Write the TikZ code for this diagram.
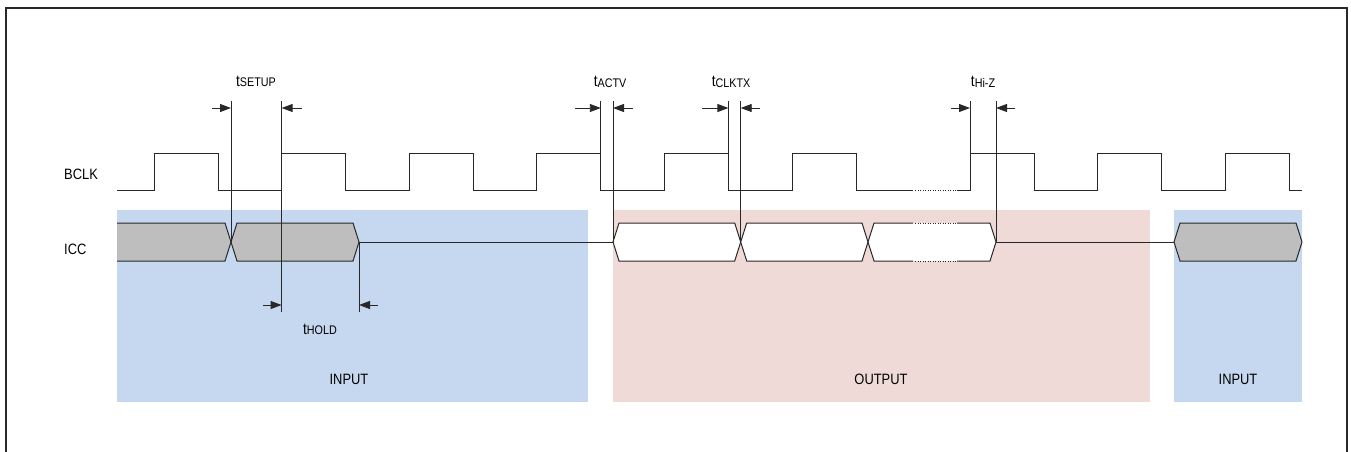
\documentclass[tikz,border=0pt]{standalone}
\usepackage{fontspec}
\setmainfont{Liberation Sans}[FakeStretch=0.86]
\usetikzlibrary{arrows.meta}
\definecolor{inblue}{RGB}{198,216,239}
\definecolor{outpink}{RGB}{240,218,216}
\definecolor{busgray}{RGB}{190,190,190}
\definecolor{ink}{RGB}{40,40,40}
\tikzset{
  wave/.style={draw=ink, line width=1pt, line join=miter},
  guide/.style={draw=ink, line width=0.9pt},
  dimarrow/.style={draw=ink, line width=0.9pt, -{Triangle[length=11pt,width=8pt]}},
  dotline/.style={draw=ink, line width=1pt, dash pattern=on 1.2pt off 1.3pt},
  lbl/.style={inner sep=0pt, anchor=base, font=\fontsize{15}{15}\selectfont, text=black},
  tlbl/.style={inner sep=0pt, anchor=base, font=\fontsize{16}{16}\selectfont, text=black},
}
\newcommand{\tsub}[1]{t{\fontsize{12.5}{12.5}\selectfont\raisebox{-0.8pt}{#1}}}
\begin{document}
\begin{tikzpicture}[x=1pt,y=-1pt]
\useasboundingbox (0,0) rectangle (1351,451);
% frame
\draw[draw=ink, line width=1.4pt] (6,460) -- (6,8) -- (1347,8) -- (1347,460);
% regions
\fill[inblue] (116.5,210) rectangle (588,401.5);
\fill[outpink] (613,210) rectangle (1149.5,401.5);
\fill[inblue] (1174,210) rectangle (1302,401.5);
% region labels
\node[lbl] (in1) at (349,384) {INPUT};
\node[lbl] (out) at (881,384) {OUTPUT};
\node[lbl] (in2) at (1238,384) {INPUT};
% signal labels
\node[lbl, anchor=base west] (bclk) at (64,179.5) {BCLK};
\node[lbl, anchor=base west] (icc) at (64,254.5) {ICC};
% BCLK waveform
\draw[wave] (117,190) -- (154,190) -- (154,153) -- (218,153) -- (218,190) -- (281.6,190) -- (281.6,153)
  -- (345.6,153) -- (345.6,190) -- (409.2,190) -- (409.2,153) -- (473.2,153) -- (473.2,190)
  -- (536.8,190) -- (536.8,153) -- (600.8,153) -- (600.8,190) -- (664.4,190) -- (664.4,153)
  -- (728.4,153) -- (728.4,190) -- (792,190) -- (792,153) -- (856,153) -- (856,190) -- (913,190);
\draw[dotline] (915,190) -- (957,190);
\draw[wave] (957,190) -- (970,190) -- (970,153) -- (1034,153) -- (1034,190) -- (1097.6,190)
  -- (1097.6,153) -- (1161.6,153) -- (1161.6,190) -- (1225.2,190) -- (1225.2,153) -- (1289.2,153)
  -- (1289.2,190) -- (1302,190);
% ICC bus
\fill[busgray] (117,223) -- (225,223) -- (231,242) -- (225,261) -- (117,261) -- cycle;
\draw[wave] (117,223) -- (225,223) -- (231,242) -- (225,261) -- (117,261);
\draw[wave, fill=busgray] (231,242) -- (237,223) -- (353,223) -- (359,242) -- (353,261) -- (237,261) -- cycle;
\draw[wave] (359,242) -- (613,242);
\draw[wave, fill=white] (613,242) -- (619,223) -- (734.7,223) -- (740.7,242) -- (734.7,261) -- (619,261) -- cycle;
\draw[wave, fill=white] (740.7,242) -- (746.7,223) -- (862,223) -- (868,242) -- (862,261) -- (746.7,261) -- cycle;
\fill[white] (868,242) -- (874,223) -- (990,223) -- (996,242) -- (990,261) -- (874,261) -- cycle;
\draw[wave] (913,223) -- (874,223) -- (868,242) -- (874,261) -- (913,261);
\draw[wave] (957,223) -- (990,223) -- (996,242) -- (990,261) -- (957,261);
\draw[dotline] (915,223) -- (957,223);
\draw[dotline] (915,261) -- (957,261);
\draw[wave] (996,242) -- (1174,242);
\draw[wave, fill=busgray] (1174,242) -- (1180,223) -- (1296,223) -- (1302,242) -- (1296,261) -- (1180,261) -- cycle;
% guide coordinates
\coordinate (s1t) at (231,101); \coordinate (s1b) at (231,242);
\coordinate (s2t) at (281.6,101); \coordinate (s2b) at (281.6,312);
\coordinate (h2t) at (359,242); \coordinate (h2b) at (359,312);
\coordinate (a1t) at (600.8,101); \coordinate (a1b) at (600.8,153);
\coordinate (a2t) at (613,101); \coordinate (a2b) at (613,242);
\coordinate (c1t) at (728.4,101); \coordinate (c1b) at (728.4,153);
\coordinate (c2t) at (740.7,101); \coordinate (c2b) at (740.7,242);
\coordinate (z1t) at (970,101); \coordinate (z1b) at (970,153);
\coordinate (z2t) at (996,101); \coordinate (z2b) at (996,242);
\draw[guide] (s1t) -- (s1b);
\draw[guide] (s2t) -- (s2b);
\draw[guide] (h2t) -- (h2b);
\draw[guide] (a1t) -- (a1b);
\draw[guide] (a2t) -- (a2b);
\draw[guide] (c1t) -- (c1b);
\draw[guide] (c2t) -- (c2b);
\draw[guide] (z1t) -- (z1b);
\draw[guide] (z2t) -- (z2b);
% dimension arrows
\coordinate (sa1) at (212,108); \coordinate (sa1e) at (231,108);
\coordinate (sa2) at (302,108); \coordinate (sa2e) at (281.6,108);
\coordinate (ha1) at (263,305); \coordinate (ha1e) at (281.6,305);
\coordinate (ha2) at (378,305); \coordinate (ha2e) at (359,305);
\coordinate (aa1) at (575,108); \coordinate (aa1e) at (600.8,108);
\coordinate (aa2) at (633,108); \coordinate (aa2e) at (613,108);
\coordinate (ca1) at (702,108); \coordinate (ca1e) at (728.4,108);
\coordinate (ca2) at (760,108); \coordinate (ca2e) at (740.7,108);
\coordinate (za1) at (951,108); \coordinate (za1e) at (970,108);
\coordinate (za2) at (1015,108); \coordinate (za2e) at (996,108);
\draw[dimarrow] (sa1) -- (sa1e);
\draw[dimarrow] (sa2) -- (sa2e);
\draw[dimarrow] (ha1) -- (ha1e);
\draw[dimarrow] (ha2) -- (ha2e);
\draw[dimarrow] (aa1) -- (aa1e);
\draw[dimarrow] (aa2) -- (aa2e);
\draw[dimarrow] (ca1) -- (ca1e);
\draw[dimarrow] (ca2) -- (ca2e);
\draw[dimarrow] (za1) -- (za1e);
\draw[dimarrow] (za2) -- (za2e);
% timing labels
\node[tlbl] (tsetup) at (256,86) {\tsub{SETUP}};
\node[tlbl] (thold) at (320,334) {\tsub{HOLD}};
\node[tlbl] (tactv) at (610,86.5) {\tsub{ACTV}};
\node[tlbl] (tclktx) at (731,86.5) {\tsub{CLKTX}};
\node[tlbl] (thiz) at (983,86.5) {\tsub{Hi-Z}};
\end{tikzpicture}
\end{document}
